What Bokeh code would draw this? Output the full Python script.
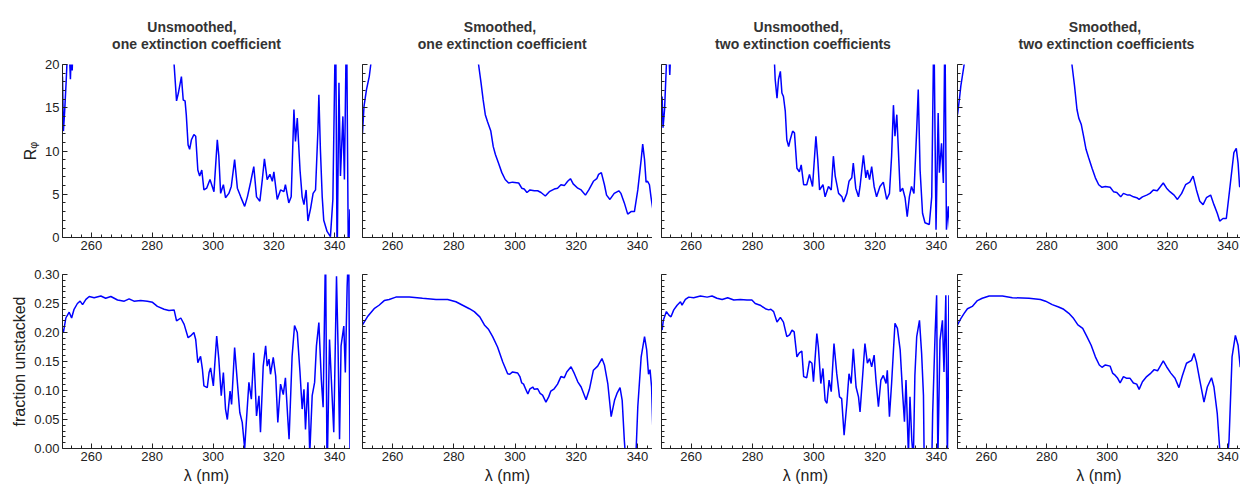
import numpy as np
from bokeh.plotting import figure
from bokeh.layouts import row, column
from bokeh.models import FixedTicker, Range1d, PrintfTickFormatter, LinearAxis
from bokeh.core.properties import value
from bokeh.embed import file_html
from bokeh.resources import INLINE

# ---------------- data (wavelength nm, value) ----------------
# Top row: R_phi ; bottom row: fraction unstacked
R_unsm_one = [
    (250.5, 18.6), (250.8, 12.3), (251.2, 14.5), (251.7, 18.0), (252.2, 22.0), (252.8, 21.0),
    (253.1, 18.3), (253.4, 21.5), (253.7, 19.3), (254.0, 24.0), (270.0, 40.0), (286.8, 30.0),
    (287.2, 20.0), (288.0, 15.8), (288.6, 16.7), (289.6, 18.6), (290.2, 15.9), (290.8, 15.8),
    (291.2, 14.2), (291.8, 10.7), (292.3, 10.2), (292.9, 11.3), (293.7, 11.9), (294.3, 11.7),
    (295.0, 7.8), (295.6, 7.1), (296.3, 7.8), (297.0, 5.5), (297.9, 5.7), (299.0, 6.7),
    (300.3, 5.3), (301.4, 11.3), (301.9, 9.4), (302.5, 5.1), (303.4, 6.1), (304.1, 4.6),
    (305.2, 5.1), (306.0, 5.9), (307.1, 9.0), (308.0, 5.7), (309.1, 4.7), (310.4, 3.6),
    (311.3, 4.7), (312.3, 6.3), (313.4, 8.2), (314.3, 4.7), (315.4, 4.2), (316.2, 6.7),
    (316.9, 9.1), (317.8, 6.7), (318.7, 7.3), (319.5, 6.5), (320.0, 7.6), (321.1, 4.4),
    (322.2, 5.5), (323.3, 5.3), (323.8, 6.1), (324.9, 4.0), (325.7, 4.7), (326.6, 14.8),
    (327.1, 11.1), (327.7, 13.8), (328.6, 7.8), (329.3, 4.7), (329.9, 3.8), (330.6, 5.5),
    (331.2, 1.9), (332.1, 3.4), (332.9, 5.1), (333.7, 5.5), (334.5, 12.5), (334.8, 16.5),
    (335.3, 10.2), (335.9, 4.7), (336.4, 2.0), (337.5, 0.7), (338.6, 0.1), (339.4, 4.4),
    (340.3, 26.0), (340.8, -3.0), (341.4, 17.9), (341.9, 7.1), (342.7, 14.0), (343.2, 6.7),
    (343.9, 26.0), (344.5, -3.0), (345.0, 3.2), (345.3, 3.2),
]
R_sm_one = [
    (250.2, 12.1), (250.7, 15.2), (251.5, 17.1), (252.4, 18.6), (252.9, 20.0), (253.5, 23.0),
    (270.0, 45.0), (287.6, 23.0), (288.1, 20.0), (288.9, 17.9), (289.6, 15.9), (290.3, 14.2),
    (291.0, 13.4), (292.1, 12.3), (292.9, 10.5), (293.6, 9.6), (294.6, 8.6), (295.7, 7.5),
    (296.8, 6.7), (297.9, 6.3), (299.2, 6.4), (301.2, 6.3), (302.2, 5.7), (303.0, 5.6),
    (303.9, 5.2), (304.9, 5.5), (306.3, 5.4), (307.4, 5.4), (308.5, 5.2), (309.9, 4.8),
    (311.2, 5.3), (312.8, 5.6), (313.9, 5.7), (315.0, 6.1), (316.1, 6.0), (317.2, 6.5),
    (318.1, 6.8), (319.0, 6.2), (320.5, 5.7), (321.6, 5.5), (323.0, 4.9), (324.1, 5.5),
    (325.6, 6.5), (326.7, 6.8), (327.3, 7.3), (328.2, 7.5), (329.2, 6.1), (329.9, 4.9),
    (331.0, 4.4), (332.4, 5.1), (333.9, 5.4), (334.6, 5.1), (335.7, 4.0), (336.8, 2.7),
    (337.9, 3.0), (339.0, 3.0), (340.1, 5.5), (341.2, 9.0), (341.7, 10.8), (342.3, 9.0),
    (342.8, 6.4), (343.3, 6.5), (343.9, 6.1), (344.4, 4.7), (345.0, 3.3),
]
R_unsm_two = [
    (250.5, 16.3), (250.8, 12.7), (251.3, 14.8), (251.9, 20.0), (252.4, 23.0), (252.8, 20.5),
    (253.0, 18.8), (253.2, 20.5), (253.6, 24.0), (270.0, 40.0), (287.0, 24.0), (287.2, 20.0),
    (287.4, 18.3), (288.0, 16.1), (288.5, 18.3), (289.1, 19.2), (289.6, 16.7), (290.1, 16.3),
    (290.7, 14.6), (291.2, 11.3), (291.8, 10.5), (292.3, 11.3), (293.1, 12.3), (293.7, 12.1),
    (294.5, 8.0), (295.3, 7.6), (295.9, 8.4), (296.7, 6.1), (297.7, 6.1), (298.6, 7.3),
    (299.6, 5.9), (300.7, 11.7), (301.3, 9.0), (301.9, 5.5), (303.0, 6.1), (303.7, 4.7),
    (304.8, 5.9), (305.7, 5.5), (306.4, 9.4), (307.0, 7.1), (308.1, 5.1), (309.2, 4.7),
    (309.7, 4.1), (310.8, 5.1), (311.5, 6.5), (312.4, 6.9), (312.9, 8.6), (313.7, 5.7),
    (314.6, 4.7), (315.1, 5.9), (316.2, 9.5), (317.0, 6.9), (317.5, 7.8), (318.2, 6.7),
    (318.9, 8.2), (319.7, 5.9), (320.5, 4.7), (321.6, 5.9), (322.7, 6.4), (323.8, 4.4),
    (324.7, 5.1), (325.4, 9.4), (326.0, 15.3), (326.5, 11.7), (327.1, 14.2), (327.6, 10.2),
    (328.2, 5.3), (329.0, 5.7), (329.8, 4.6), (330.5, 2.4), (331.2, 4.7), (331.9, 5.9),
    (332.7, 5.1), (333.6, 12.5), (334.1, 17.1), (334.7, 7.8), (335.5, 2.8), (336.3, 1.7),
    (337.7, 1.5), (338.5, 4.7), (339.2, 25.0), (339.9, 0.9), (340.6, 14.4), (341.0, 7.5),
    (341.7, 10.9), (342.3, 6.3), (342.8, 25.0), (343.3, 0.9), (343.9, 3.6), (344.4, 0.9),
]
R_sm_two = [
    (250.4, 14.2), (251.0, 15.9), (251.5, 17.5), (252.6, 20.0), (253.2, 23.0), (270.0, 45.0),
    (287.7, 23.0), (288.1, 20.8), (288.4, 19.8), (289.2, 17.5), (290.0, 14.8), (290.6, 13.8),
    (291.4, 13.1), (292.2, 11.7), (293.0, 10.2), (293.9, 9.2), (295.0, 8.0), (296.1, 6.9),
    (297.2, 6.1), (298.3, 5.8), (299.4, 5.9), (301.0, 5.8), (302.1, 5.3), (303.2, 5.2),
    (304.5, 4.7), (305.4, 5.1), (306.8, 4.9), (307.6, 4.9), (308.7, 4.7), (309.8, 4.6),
    (310.6, 4.4), (311.7, 4.7), (313.1, 4.9), (314.2, 5.1), (315.3, 5.5), (316.6, 5.4),
    (317.5, 5.8), (318.6, 6.3), (319.7, 5.7), (320.8, 5.3), (322.2, 4.9), (323.3, 4.4),
    (324.7, 5.1), (326.0, 6.1), (327.4, 6.4), (328.5, 7.1), (329.6, 5.5), (330.7, 4.2),
    (331.8, 3.8), (332.9, 4.6), (334.3, 4.9), (335.4, 3.8), (336.5, 2.8), (337.3, 1.9),
    (338.4, 2.2), (339.5, 2.2), (340.6, 5.5), (342.0, 9.8), (342.8, 10.3), (343.4, 8.6),
    (343.9, 5.9), (344.5, 5.8),
]
F_unsm_one = [
    (250.3, 0.208), (250.8, 0.200), (251.6, 0.225), (252.7, 0.235), (253.5, 0.225), (254.3, 0.240),
    (255.4, 0.250), (256.3, 0.254), (257.1, 0.248), (258.2, 0.257), (259.3, 0.262), (260.9, 0.260),
    (263.1, 0.263), (264.7, 0.259), (266.4, 0.262), (268.6, 0.256), (270.8, 0.254), (272.4, 0.258),
    (274.0, 0.254), (276.2, 0.255), (278.4, 0.254), (280.1, 0.252), (281.7, 0.245), (283.9, 0.240),
    (285.5, 0.238), (287.2, 0.239), (288.0, 0.220), (289.4, 0.225), (290.5, 0.214), (291.8, 0.191),
    (292.6, 0.194), (293.7, 0.200), (294.3, 0.188), (295.0, 0.148), (295.9, 0.159), (296.5, 0.137),
    (297.0, 0.108), (298.1, 0.105), (298.7, 0.131), (299.2, 0.139), (300.1, 0.108), (301.2, 0.194),
    (301.9, 0.154), (302.7, 0.091), (303.4, 0.131), (304.1, 0.068), (304.7, 0.050), (305.6, 0.099),
    (306.1, 0.076), (307.1, 0.174), (308.0, 0.114), (308.8, 0.062), (309.6, 0.045), (310.4, 0.000),
    (311.0, 0.050), (311.8, 0.114), (312.6, 0.085), (313.4, 0.165), (314.3, 0.056), (315.1, 0.091),
    (315.6, 0.028), (316.5, 0.142), (317.3, 0.177), (317.8, 0.142), (318.4, 0.154), (318.9, 0.128),
    (319.8, 0.157), (320.6, 0.125), (321.3, 0.045), (322.2, 0.111), (323.1, 0.093), (323.8, 0.122),
    (324.6, 0.050), (325.0, 0.016), (326.0, 0.159), (326.8, 0.212), (327.7, 0.200), (328.6, 0.131),
    (329.3, 0.068), (329.9, 0.102), (330.4, 0.033), (331.2, 0.114), (331.8, -0.010), (332.6, 0.091),
    (333.4, 0.114), (334.0, 0.177), (334.8, 0.217), (335.6, 0.119), (336.2, 0.071), (337.0, 0.350),
    (337.5, -0.050), (338.3, 0.188), (338.9, 0.119), (339.7, 0.028), (340.6, 0.297), (341.1, 0.177),
    (341.6, 0.016), (342.1, 0.177), (343.0, 0.211), (343.5, 0.131), (344.1, 0.280), (344.6, 0.350),
    (345.1, -0.050),
]
F_sm_one = [
    (250.2, 0.213), (251.8, 0.227), (254.0, 0.241), (255.6, 0.247), (257.3, 0.255), (258.9, 0.257),
    (261.1, 0.261), (265.5, 0.261), (269.8, 0.259), (274.2, 0.257), (278.0, 0.257), (280.7, 0.253),
    (282.9, 0.247), (285.1, 0.241), (286.7, 0.236), (288.5, 0.227), (290.0, 0.213), (291.4, 0.205),
    (292.7, 0.193), (294.3, 0.175), (296.0, 0.149), (297.6, 0.129), (298.3, 0.128), (299.2, 0.132),
    (300.9, 0.130), (301.6, 0.124), (302.2, 0.113), (302.8, 0.111), (303.6, 0.101), (304.2, 0.094),
    (304.9, 0.103), (305.8, 0.106), (306.3, 0.102), (307.4, 0.103), (308.2, 0.095), (309.0, 0.092),
    (310.1, 0.080), (311.0, 0.089), (311.7, 0.099), (312.8, 0.103), (313.9, 0.111), (315.0, 0.124),
    (316.1, 0.122), (316.9, 0.132), (318.3, 0.141), (319.4, 0.129), (320.5, 0.115), (321.6, 0.106),
    (323.2, 0.084), (324.3, 0.102), (325.6, 0.135), (327.0, 0.142), (328.4, 0.155), (329.2, 0.144),
    (330.3, 0.112), (331.4, 0.055), (332.5, 0.083), (333.3, 0.095), (334.3, 0.105), (335.0, 0.083),
    (335.7, 0.014), (336.3, -0.030), (337.5, -0.080), (339.0, -0.050), (339.5, -0.010), (340.1, 0.072),
    (341.2, 0.158), (342.3, 0.193), (343.0, 0.170), (343.6, 0.128), (344.1, 0.136), (344.6, 0.106),
    (345.2, 0.000),
]
F_unsm_two = [
    (250.5, 0.204), (250.9, 0.221), (251.9, 0.236), (252.7, 0.230), (253.4, 0.227), (254.3, 0.239),
    (255.4, 0.247), (256.5, 0.253), (257.0, 0.247), (258.1, 0.257), (259.2, 0.261), (260.8, 0.260),
    (263.0, 0.263), (265.2, 0.261), (266.8, 0.263), (268.4, 0.259), (270.1, 0.257), (271.9, 0.260),
    (273.9, 0.256), (276.0, 0.257), (278.2, 0.256), (279.8, 0.256), (280.9, 0.250), (282.5, 0.247),
    (284.2, 0.241), (285.3, 0.239), (286.0, 0.240), (286.9, 0.236), (288.0, 0.218), (289.1, 0.226),
    (290.1, 0.218), (291.2, 0.193), (292.1, 0.196), (292.9, 0.204), (293.6, 0.201), (294.5, 0.158),
    (295.3, 0.165), (296.1, 0.168), (296.7, 0.124), (297.7, 0.122), (298.6, 0.151), (299.4, 0.147),
    (299.9, 0.115), (301.0, 0.198), (301.5, 0.175), (302.3, 0.112), (303.0, 0.138), (303.7, 0.083),
    (304.3, 0.078), (305.0, 0.118), (305.7, 0.098), (306.6, 0.181), (307.5, 0.129), (308.4, 0.089),
    (309.1, 0.086), (309.9, 0.023), (310.8, 0.078), (311.5, 0.129), (312.2, 0.112), (312.9, 0.172),
    (313.8, 0.106), (314.6, 0.089), (315.1, 0.063), (316.0, 0.129), (316.7, 0.181), (317.5, 0.147),
    (318.2, 0.155), (318.9, 0.141), (319.7, 0.161), (320.3, 0.118), (321.1, 0.072), (321.9, 0.118),
    (322.7, 0.126), (323.6, 0.112), (324.0, 0.135), (324.7, 0.055), (325.4, 0.112), (326.5, 0.216),
    (327.3, 0.207), (328.2, 0.170), (329.0, 0.095), (329.6, 0.046), (330.1, 0.118), (330.9, -0.010),
    (331.4, 0.089), (332.0, 0.014), (332.5, -0.020), (333.0, 0.126), (333.6, 0.193), (334.5, 0.221),
    (335.2, 0.164), (335.8, 0.092), (336.1, -0.050), (337.3, -0.080), (338.5, -0.030), (338.8, 0.060),
    (339.6, 0.198), (340.1, 0.264), (340.5, -0.020), (341.2, 0.187), (342.0, 0.221), (342.5, 0.132),
    (343.1, 0.264), (343.6, -0.020), (344.1, 0.264), (344.4, -0.020),
]
F_sm_two = [
    (250.4, 0.213), (251.5, 0.224), (252.6, 0.233), (253.7, 0.241), (255.3, 0.245), (257.0, 0.255),
    (258.6, 0.259), (260.9, 0.263), (265.3, 0.263), (268.6, 0.260), (274.1, 0.259), (277.9, 0.257),
    (279.6, 0.254), (281.8, 0.248), (283.9, 0.244), (285.6, 0.240), (287.3, 0.233), (288.9, 0.224),
    (290.3, 0.213), (291.9, 0.207), (293.3, 0.193), (294.7, 0.178), (296.1, 0.158), (297.4, 0.144),
    (298.3, 0.140), (299.4, 0.144), (301.0, 0.142), (301.8, 0.130), (302.7, 0.126), (303.5, 0.121),
    (304.3, 0.113), (305.4, 0.124), (306.5, 0.121), (307.6, 0.121), (308.7, 0.113), (309.8, 0.111),
    (310.6, 0.102), (311.7, 0.115), (313.1, 0.124), (314.5, 0.130), (315.6, 0.136), (316.7, 0.134),
    (318.6, 0.151), (319.7, 0.141), (321.1, 0.130), (322.5, 0.121), (323.8, 0.105), (324.9, 0.125),
    (326.3, 0.147), (328.0, 0.152), (328.8, 0.164), (329.6, 0.149), (330.7, 0.118), (332.1, 0.080),
    (333.2, 0.106), (334.6, 0.122), (335.4, 0.106), (336.5, 0.060), (337.3, 0.000), (337.8, -0.030),
    (339.0, -0.060), (339.8, -0.020), (340.4, 0.014), (341.4, 0.158), (342.5, 0.195), (343.4, 0.178),
    (344.1, 0.141), (344.6, 0.140),
]

title_line1 = ["Unsmoothed,", "Smoothed,", "Unsmoothed,", "Smoothed,"]
title_line2 = ["one extinction coefficient", "one extinction coefficient",
               "two extinction coefficients", "two extinction coefficients"]
top_series = [R_unsm_one, R_sm_one, R_unsm_two, R_sm_two]
bottom_series = [F_unsm_one, F_sm_one, F_unsm_two, F_sm_two]
x_ticks = [260, 280, 300, 320, 340]
R_ticks = [0, 5, 10, 15, 20]
F_ticks = [0.0, 0.05, 0.10, 0.15, 0.20, 0.25, 0.30]

# ---------------- layout / style ----------------
FONT = "Liberation Sans"
TXT = "#222222"
BLUE = "#0000ff"
left_b = [62, 12, 9, 8]
frame_w = [288, 290, 288, 283]
x_ranges = [(250.5, 345.2), (250.2, 344.9), (250.3, 344.3), (250.4, 344.2)]
TITLE_H = 54
# title strip: line centres (px from each strip's left) and baselines (px from its bottom)
t1_px = [191.5, 149.5, 145.8, 155.5]
t2_px = [196.0, 151.7, 150.5, 157.0]
t1_base, t2_base = 28.0, 10.5

x_minor = list(np.arange(250.0, 346.0, 20.0 / 6.0))
R_minor = list(range(0, 21))
F_minor = [i / 100 for i in range(0, 31)]


def style_axis(ax):
    ax.axis_line_color = TXT
    ax.axis_line_width = 1
    ax.major_tick_in = 5
    ax.major_tick_out = 0
    ax.minor_tick_in = 3
    ax.minor_tick_out = 0
    ax.major_tick_line_color = TXT
    ax.minor_tick_line_color = TXT
    ax.major_label_text_font = FONT
    ax.major_label_text_font_size = "13px"
    ax.major_label_text_color = TXT
    ax.major_label_standoff = 3
    ax.axis_label_text_font = FONT
    ax.axis_label_text_font_size = "16px"
    ax.axis_label_text_font_style = "normal"
    ax.axis_label_text_color = TXT
    ax.axis_label_standoff = 3


def make_title(ci):
    w = left_b[ci] + frame_w[ci]
    p = figure(frame_width=w, frame_height=TITLE_H,
               x_range=Range1d(0, w), y_range=Range1d(0, TITLE_H),
               output_backend="svg", toolbar_location=None,
               x_axis_location=None, y_axis_location=None,
               min_border_left=0, min_border_right=0,
               min_border_top=0, min_border_bottom=0)
    p.grid.visible = False
    p.outline_line_color = None
    p.background_fill_color = "white"
    p.border_fill_color = "white"
    p.text(x=[t1_px[ci], t2_px[ci]], y=[t1_base, t2_base],
           text=[title_line1[ci], title_line2[ci]],
           text_align="center", text_baseline="alphabetic",
           text_font=value(FONT), text_font_size="14px",
           text_font_style="bold", text_color="#333333")
    return p


def make(ci, top):
    x0, x1 = x_ranges[ci]
    yr = Range1d(0, 20) if top else Range1d(0, 0.30)
    majors = R_ticks if top else F_ticks
    minors = R_minor if top else F_minor
    p = figure(frame_width=frame_w[ci], frame_height=173 if top else 174,
               x_range=Range1d(x0, x1), y_range=yr,
               output_backend="svg", toolbar_location=None,
               min_border_left=left_b[ci], min_border_right=0,
               min_border_top=64 - TITLE_H if top else 12,
               min_border_bottom=25 if top else 30,
               y_axis_location=None if ci > 0 else "left")
    p.grid.visible = False
    p.outline_line_color = None
    p.background_fill_color = "white"
    p.border_fill_color = "white"

    data = top_series[ci] if top else bottom_series[ci]
    xs = [d[0] for d in data]
    ys = [d[1] for d in data]
    p.line(xs, ys, line_color=BLUE, line_width=1.5)

    style_axis(p.xaxis[0])
    p.xaxis[0].ticker = FixedTicker(ticks=x_ticks, minor_ticks=x_minor)

    if ci == 0:
        ya = p.yaxis[0]
        style_axis(ya)
        ya.ticker = FixedTicker(ticks=majors, minor_ticks=minors)
        if not top:
            ya.formatter = PrintfTickFormatter(format="%.2f")
            ya.axis_label = "fraction unstacked"
        else:
            ya.axis_label = "R\u1d69"
    else:
        # unlabeled left axes: minor ticks + long ticks at the major positions
        a1 = LinearAxis(ticker=FixedTicker(ticks=[], minor_ticks=minors))
        style_axis(a1)
        a1.major_label_standoff = 0
        a1.axis_label_standoff = 0
        a2 = LinearAxis(ticker=FixedTicker(ticks=[], minor_ticks=majors))
        style_axis(a2)
        a2.minor_tick_in = 5
        a2.major_label_standoff = 0
        a2.axis_label_standoff = 0
        a2.axis_line_color = None
        p.add_layout(a1, "left")
        p.add_layout(a2, "left")

    if not top:
        p.xaxis[0].axis_label = "\u03bb (nm)"
    return p


title_row = row([make_title(i) for i in range(4)], spacing=0)
top_row = row([make(i, True) for i in range(4)], spacing=0)
bot_row = row([make(i, False) for i in range(4)], spacing=0)
layout = column([title_row, top_row, bot_row], spacing=0)

open("out.html", "w").write(file_html(layout, INLINE))
